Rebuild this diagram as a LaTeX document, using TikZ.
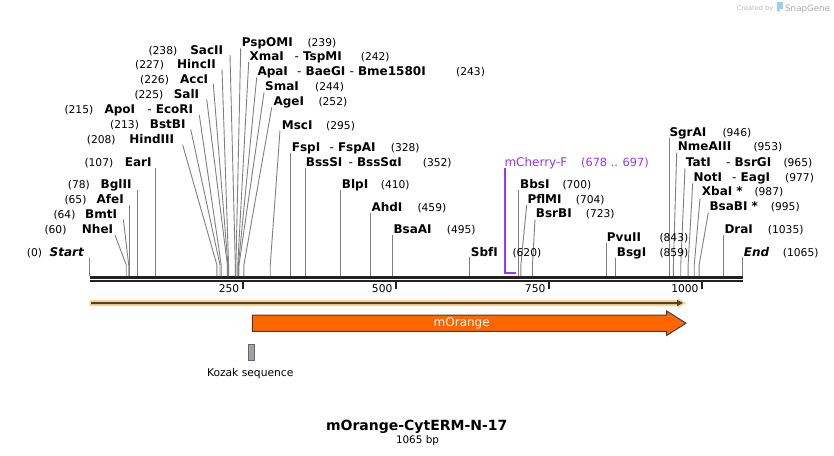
\documentclass[tikz,border=0pt]{standalone}
\usepackage{fontspec}
\setmainfont{DejaVu Sans}
\definecolor{cutgray}{RGB}{128,128,128}
\definecolor{bbcol}{RGB}{34,34,34}
\definecolor{primer}{RGB}{153,51,255}
\definecolor{orangeF}{RGB}{255,102,0}
\definecolor{featedge}{RGB}{64,64,64}
\definecolor{bandlight}{RGB}{253,211,138}
\definecolor{banddark}{RGB}{77,64,48}
\definecolor{kozakcol}{RGB}{160,160,168}
\definecolor{wmgray}{RGB}{170,170,170}
\definecolor{wmblue}{RGB}{150,210,240}
\newcommand{\mkcutS}[4]{%
  \coordinate (#1t) at (#2,#3);
  \coordinate (#1k) at ({89.5+0.6127*#4},265);
  \coordinate (#1b) at ({89.5+0.6127*#4},276);
  \draw[cutline] (#1t) -- (#1k) -- (#1b);}
\newcommand{\mkcutV}[3]{%
  \coordinate (#1t) at ({89.5+0.6127*#3},#2);
  \coordinate (#1b) at ({89.5+0.6127*#3},276);
  \draw[cutline] (#1t) -- (#1b);}
\newcommand{\leftlab}[6]{%
  \node[num,anchor=base west] (#1p) at (#2,#4) {#5};
  \node[enz,anchor=base east] (#1n) at (#3,#4) {#6};}
\newcommand{\rightlab}[6]{%
  \node[enz,anchor=base west] (#1n) at (#2,#4) {#5};
  \node[num,anchor=base west] (#1p) at (#3,#4) {#6};}
\newcommand{\dsh}{{\mdseries -}\ }
\begin{document}
\begin{tikzpicture}[x=1pt,y=-1pt,
  enz/.style={font=\fontsize{12}{14}\selectfont\bfseries, inner sep=0pt},
  num/.style={font=\fontsize{10.7}{13}\selectfont, inner sep=0pt},
  cutline/.style={draw=cutgray, line width=0.9pt},
  tickmark/.style={draw=bbcol, line width=2pt}]
\fill[white] (0,0) rectangle (834,455);
\useasboundingbox (0,0) rectangle (834,455);

% ---- backbone ----
\draw[bbcol, line width=3pt] (89.5,277) -- (743,277);
\draw[bbcol, line width=2pt] (89.5,281.3) -- (743,281.3);
\draw[tickmark] (242.7,281) -- (242.7,289);
\draw[tickmark] (395.8,281) -- (395.8,289);
\draw[tickmark] (548.8,281) -- (548.8,289);
\draw[tickmark] (701.9,281) -- (701.9,289);
\node[num,anchor=base east] (t250) at (239.5,292.7) {250};
\node[num,anchor=base east] (t500) at (392.6,292.7) {500};
\node[num,anchor=base east] (t750) at (545.6,292.7) {750};
\node[num,anchor=base east] (t1000) at (698.7,292.7) {1000};

% ---- cut lines ----
\mkcutV{cStart}{257.7}{0}
\mkcutS{cNheI}{115}{235}{60}
\mkcutS{cBmtI}{123.3}{219.3}{64}
\mkcutV{cAfeI}{205}{65}
\mkcutV{cBglII}{190}{78}
\mkcutV{cEarI}{168}{107}
\mkcutS{cHindIII}{182.7}{145}{208}
\mkcutS{cBstBI}{190.7}{129.3}{213}
\mkcutS{cApoI}{199.3}{115}{215}
\mkcutS{cSalI}{206.7}{99.3}{225}
\mkcutS{cAccI}{213.3}{84}{226}
\mkcutS{cHincII}{222}{69.3}{227}
\mkcutS{cSacII}{230}{55}{238}
\mkcutS{cPspOMI}{240.7}{48.3}{239}
\mkcutS{cXmaI}{248.7}{62}{242}
\mkcutS{cApaI}{256.7}{77.5}{243}
\mkcutS{cSmaI}{264}{92.5}{244}
\mkcutS{cAgeI}{271.7}{107.5}{252}
\mkcutS{cMscI}{280}{130.5}{295}
\mkcutV{cFspI}{153.3}{328}
\mkcutV{cBssSI}{168.3}{352}
\mkcutV{cBlpI}{190}{410}
\mkcutV{cAhdI}{212.7}{459}
\mkcutV{cBsaAI}{235}{495}
\mkcutV{cSbfI}{256.7}{620}
\mkcutV{cBbsI}{190}{700}
\mkcutS{cPflMI}{526.7}{205}{704}
\mkcutS{cBsrBI}{535}{219.3}{723}
\mkcutV{cPvuII}{242.7}{843}
\mkcutV{cBsgI}{258.3}{859}
\mkcutV{cSgrAI}{138.3}{946}
\mkcutS{cNmeAIII}{676.7}{152.7}{953}
\mkcutS{cTatI}{685}{168.3}{965}
\mkcutS{cNotI}{692.7}{183.3}{977}
\mkcutS{cXbaI}{700}{198.3}{987}
\mkcutS{cBsaBI}{708.3}{212.7}{995}
\mkcutV{cDraI}{235}{1035}
\mkcutV{cEnd}{256.7}{1065}

% ---- left labels ----
\leftlab{lSacII}{148.3}{223.3}{54}{(238)}{SacII}
\leftlab{lHincII}{135}{216}{68.5}{(227)}{HincII}
\leftlab{lAccI}{140}{208.3}{83.4}{(226)}{AccI}
\leftlab{lSalI}{134.3}{199.3}{98.3}{(225)}{SalI}
\node[num,anchor=base west] (lApoIp) at (64.3,113.3) {(215)};
\node[enz,anchor=base west] (lApoIn) at (104.3,113.3) {ApoI};
\node[enz,anchor=base east] (lEcoRIn) at (193.3,113.3) {\dsh EcoRI};
\leftlab{lBstBI}{110}{185.7}{128.3}{(213)}{BstBI}
\leftlab{lHindIII}{86.7}{174.3}{143.3}{(208)}{HindIII}
\leftlab{lEarI}{84.3}{151.7}{166.7}{(107)}{EarI}
\leftlab{lBglII}{67.7}{131.7}{188.3}{(78)}{BglII}
\leftlab{lAfeI}{64.3}{124}{203.3}{(65)}{AfeI}
\leftlab{lBmtI}{53.3}{117.3}{218.3}{(64)}{BmtI}
\leftlab{lNheI}{44.3}{113.3}{233.3}{(60)}{NheI}
\leftlab{lStart}{26.7}{84}{256}{(0)}{\itshape Start}

% ---- right labels ----
\rightlab{rPspOMI}{241.7}{307.3}{46.5}{PspOMI}{(239)}
\rightlab{rXmaI}{249.3}{360.7}{60.7}{XmaI}{(242)}
\node[enz,anchor=base west] (rTspMI) at (294.3,60.7) {\dsh TspMI};
\rightlab{rApaI}{257.3}{456}{75.7}{ApaI}{(243)}
\node[enz,anchor=base west] (rBaeGI) at (297,75.7) {\dsh BaeGI\ \dsh Bme1580I};
\rightlab{rSmaI}{265}{315}{90.7}{SmaI}{(244)}
\rightlab{rAgeI}{273.3}{318.3}{105.7}{AgeI}{(252)}
\rightlab{rMscI}{281.7}{326}{129}{MscI}{(295)}
\rightlab{rFspI}{291.7}{390.7}{151.7}{FspI}{(328)}
\node[enz,anchor=base west] (rFspAI) at (329.3,151.7) {\dsh FspAI};
\rightlab{rBssSI}{305.7}{422.7}{166}{BssSI}{(352)}
\node[enz,anchor=base west] (rBssSaI) at (348.3,166) {\dsh BssSαI};
\rightlab{rBlpI}{341.7}{380.7}{188.3}{BlpI}{(410)}
\rightlab{rAhdI}{371.3}{417.3}{211}{AhdI}{(459)}
\rightlab{rBsaAI}{393.3}{446.7}{233.3}{BsaAI}{(495)}
\rightlab{rSbfI}{470.7}{512.3}{256}{SbfI}{(620)}
\rightlab{rBbsI}{520}{562.3}{188.3}{BbsI}{(700)}
\rightlab{rPflMI}{527.3}{575.7}{203.3}{PflMI}{(704)}
\rightlab{rBsrBI}{535.7}{585.7}{217.7}{BsrBI}{(723)}
\rightlab{rPvuII}{606.7}{659.3}{241}{PvuII}{(843)}
\rightlab{rBsgI}{616.7}{659.3}{256}{BsgI}{(859)}
\rightlab{rSgrAI}{669.3}{722.3}{136}{SgrAI}{(946)}
\rightlab{rNmeAIII}{677.7}{753.3}{150.7}{NmeAIII}{(953)}
\rightlab{rTatI}{685.7}{783.3}{166}{TatI}{(965)}
\node[enz,anchor=base west] (rBsrGI) at (726,166) {\dsh BsrGI};
\rightlab{rNotI}{693.3}{785}{181}{NotI}{(977)}
\node[enz,anchor=base west] (rEagI) at (732,181) {\dsh EagI};
\rightlab{rXbaI}{701.7}{754.3}{195.7}{XbaI *}{(987)}
\rightlab{rBsaBI}{709.3}{770.7}{210.7}{BsaBI *}{(995)}
\rightlab{rDraI}{724.3}{767.7}{233.3}{DraI}{(1035)}
\rightlab{rEnd}{743.7}{782.7}{256}{\itshape End}{(1065)}

% ---- primer ----
\coordinate (prTop) at (505,168.3);
\coordinate (prCorner) at (505,273);
\coordinate (prEnd) at (516,273);
\draw[primer, line width=1.8pt] (prTop) -- (prCorner) -- (prEnd);
\node[anchor=base west, inner sep=0pt, text=primer, font=\fontsize{12}{14}\selectfont] (prLab) at (504.3,166) {mCherry-F};
\node[anchor=base west, inner sep=0pt, text=primer, font=\fontsize{11.3}{13}\selectfont] (prPos) at (581,166) {(678 .. 697)};

% ---- strand band ----
\fill[bandlight] (89.5,300) -- (678,300) -- (678,298) -- (686,303) -- (678,308) -- (678,306) -- (89.5,306) -- cycle;
\fill[banddark] (91,302) -- (677,302) -- (677,299.8) -- (683,303) -- (677,306.2) -- (677,304) -- (91,304) -- cycle;

% ---- mOrange feature ----
\draw[fill=orangeF, draw=featedge, line width=1pt] (252.3,315) -- (666.7,315) -- (666.7,311) -- (686,323.2) -- (666.7,335.4) -- (666.7,331.3) -- (252.3,331.3) -- cycle;
\node[anchor=base, inner sep=0pt, text=white, font=\fontsize{12}{14}\selectfont] (mOr) at (461.7,326.5) {mOrange};

% ---- Kozak ----
\draw[fill=kozakcol, draw=featedge!80, line width=0.8pt] (248.3,344) rectangle (254.7,360.7);
\node[anchor=base, inner sep=0pt, font=\fontsize{10.7}{13}\selectfont] (kozak) at (250.2,376.7) {Kozak sequence};

% ---- title ----
\node[anchor=base, inner sep=0pt, font=\fontsize{14}{16}\selectfont\bfseries] (title) at (416.7,430) {mOrange-CytERM-N-17};
\node[anchor=base, inner sep=0pt, font=\fontsize{10.4}{12}\selectfont] (len) at (417.5,443.3) {1065 bp};

% ---- watermark ----
\node[anchor=base west, inner sep=0pt, text=wmgray!80, font=\fontsize{6.6}{8}\selectfont] (wm1) at (736.7,10) {Created by};
\fill[wmblue] (777,2) rectangle (782.5,8.5);
\fill[wmblue] (777,8.5) -- (779.5,8.5) -- (779.5,12) -- (777,11) -- cycle;
\node[anchor=base west, inner sep=0pt, text=wmgray, font=\fontsize{8.7}{10}\selectfont] (wm2) at (785,11) {SnapGene};
\end{tikzpicture}
\end{document}
